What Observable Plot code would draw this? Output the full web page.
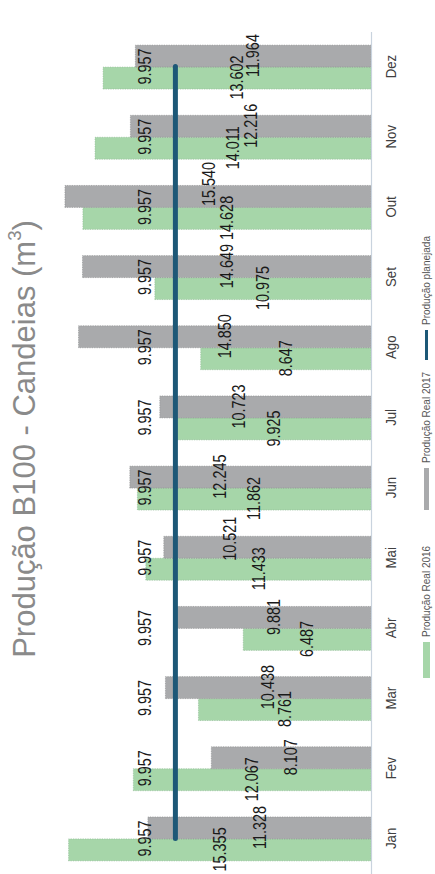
<!DOCTYPE html>
<html>
<head>
<meta charset="utf-8">
<script src="https://cdn.jsdelivr.net/npm/d3@7"></script>
<script src="https://cdn.jsdelivr.net/npm/@observablehq/plot@0.6"></script>
<style>
  html, body { margin: 0; padding: 0; background: #fff; overflow: hidden; }
  body { width: 435px; height: 874px; position: relative; }
  #land {
    position: absolute; left: 0; top: 0;
    width: 874px; height: 435px;
    transform-origin: 0 0;
    transform: translate(0px, 874px) rotate(-90deg);
    font-family: "Liberation Sans", Arial, sans-serif;
    background: #fff;
  }
  #title {
    height: 48px; line-height: 50px; text-align: center;
    font-size: 31px; color: #8a8a8a; padding-right: 4px;
  }
  #title sup { font-size: 0.6em; line-height: 0; vertical-align: 0.75em; }
  #legend { position: relative; height: 18px; font-size: 10px; color: #555; }
  .item { position: absolute; top: 0; height: 18px; display: flex; align-items: center; gap: 5px; white-space: nowrap; }
  .sw { display: inline-block; }
</style>
</head>
<body>
<div id="land">
  <div id="title">Produção B100 - Candeias (m<sup>3</sup>)</div>
  <div id="chart"></div>
  <div id="legend"></div>
</div>
<script>
const months = ["Jan","Fev","Mar","Abr","Mai","Jun","Jul","Ago","Set","Out","Nov","Dez"];
const real2016 = [15355, 12067, 8761, 6487, 11433, 11862, 9925, 8647, 10975, 14628, 14011, 13602];
const real2017 = [11328, 8107, 10438, 9881, 10521, 12245, 10723, 14850, 14649, 15540, 12216, 11964];
const planned = [9957, 9957, 9957, 9957, 9957, 9957, 9957, 9957, 9957, 9957, 9957, 9957];
const seriesNames = ["Produção Real 2016", "Produção Real 2017", "Produção planejada"];
const colors = ["#a6d6a9", "#a9aaac", "#1d5877"];

// manual data-label nudges (pixels), as dragged in the original chart
const nudge2016 = {};
const nudge2017 = {Mai: [8, -38], Jun: [0, -31], Jul: [0, -27], Out: [12, -9]};

const fmt = d3.formatLocale({decimal: ",", thousands: ".", grouping: [3], currency: ["R$", ""]}).format(",d");
const w = 0.313; // bar width in month units
const font = "'Liberation Sans', Arial, sans-serif";

const d16 = real2016.map((v, i) => ({i, v}));
const d17 = real2017.map((v, i) => ({i, v}));
const dPl = planned.map((v, i) => ({i, v}));

function valueLabels(data, off, nudges) {
  return data.map(d => {
    const [dx, dy] = nudges[months[d.i]] || [0, 0];
    return Plot.text([d], {x: e => e.i + off, y: e => e.v / 2, text: e => fmt(e.v), dx, dy,
      fontSize: 18, fill: "#1a1a1a"});
  });
}

const chart = Plot.plot({
  width: 874,
  height: 369,
  marginLeft: 0,
  marginRight: 32,
  marginTop: 0,
  marginBottom: 46,
  style: {fontFamily: font, fontSize: "15px", color: "#404040", background: "#fff"},
  x: {domain: [-0.5, 11.5], ticks: d3.range(12), tickFormat: i => months[i], tickSize: 0, tickPadding: 14, label: null},
  y: {domain: [0, 16400], axis: null},
  marks: [
    Plot.rectY(d16, {x1: d => d.i - w, x2: d => d.i, y1: 0, y2: "v", fill: colors[0], stroke: "#8fb894", strokeWidth: 0.6, strokeDasharray: "1.2 1.2"}),
    Plot.rectY(d17, {x1: d => d.i, x2: d => d.i + w, y1: 0, y2: "v", fill: colors[1], stroke: "#8a8b8d", strokeWidth: 0.6, strokeDasharray: "1.2 1.2"}),
    Plot.ruleY([0], {stroke: "#c9d3de", strokeWidth: 1.2}),
    Plot.line(dPl, {x: "i", y: "v", stroke: colors[2], strokeWidth: 5, strokeLinecap: "round"}),
    ...valueLabels(d16, -w / 2, nudge2016),
    ...valueLabels(d17, w / 2, nudge2017),
    Plot.text(dPl, {x: "i", y: "v", text: d => fmt(d.v), dy: -30, fontSize: 18, fill: "#1a1a1a"})
  ]
});
document.getElementById("chart").appendChild(chart);

// condense the Arial-like glyphs to mimic the narrow font of the original
chart.querySelectorAll("text").forEach(t => {
  const len = t.getComputedTextLength();
  if (!len) return;
  const g = t.closest("g[aria-label]");
  const isAxis = g ? /axis/.test(g.getAttribute("aria-label")) : false;
  t.setAttribute("textLength", (len * (isAxis ? 0.88 : 0.8)).toFixed(1));
  t.setAttribute("lengthAdjust", "spacingAndGlyphs");
});

const legend = document.getElementById("legend");
const items = [
  {left: 196, w: 36, h: 7, c: colors[0]},
  {left: 364, w: 42, h: 5, c: colors[1]},
  {left: 514, w: 30, h: 3, c: colors[2]}
];
seriesNames.forEach((name, k) => {
  const item = document.createElement("div");
  item.className = "item";
  item.style.left = items[k].left + "px";
  const sw = document.createElement("span");
  sw.className = "sw";
  sw.style.width = items[k].w + "px";
  sw.style.height = items[k].h + "px";
  sw.style.background = items[k].c;
  const t = document.createElement("span");
  t.textContent = name;
  item.appendChild(sw);
  item.appendChild(t);
  legend.appendChild(item);
});
</script>
</body>
</html>
